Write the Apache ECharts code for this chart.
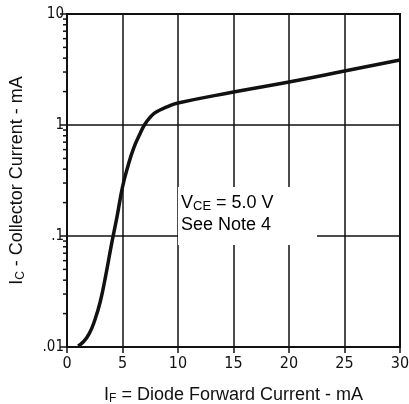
<!DOCTYPE html>
<html>
<head>
<meta charset="utf-8">
<script src="https://cdn.jsdelivr.net/npm/echarts@6/dist/echarts.min.js"></script>
<style>html,body{margin:0;padding:0;background:#fff;}#c{width:409px;height:404px;}</style>
</head>
<body>
<div id="c"></div>
<script>
// Diode forward current (mA)
var ifCurrent = [1.0, 1.5, 2.0, 2.5, 3.0, 3.5, 4.0, 4.5, 5.0, 5.5, 6.0, 6.5, 7.0, 7.5, 8.0, 9.0, 10, 15, 20, 25, 30];
// Collector current (mA)
var icCurrent = [0.0102, 0.0112, 0.0132, 0.0174, 0.0257, 0.0447, 0.0832, 0.148, 0.275, 0.43, 0.617, 0.804, 1.01, 1.175, 1.30, 1.455, 1.578, 1.98, 2.44, 3.06, 3.85];
var xTicks = [0, 5, 10, 15, 20, 25, 30];
var yTickLabels = {"0.01": ".01", "0.1": ".1", "1": "1", "10": "10"};
var yMinorTicks = [0.02,0.03,0.04,0.05,0.06,0.07,0.08,0.09,0.2,0.3,0.4,0.5,0.6,0.7,0.8,0.9,2,3,4,5,6,7,8,9];

var narrow = '"Liberation Sans Narrow", "DejaVu Sans Condensed", "Liberation Sans", sans-serif';
var sans = '"Liberation Sans", Arial, sans-serif';
var chart = echarts.init(document.getElementById('c'));
chart.setOption({
  animation: false,
  backgroundColor: '#fff',
  grid: {left: 67, right: 9, top: 14, bottom: 57, outerBoundsMode: 'none', containLabel: false, show: true, borderColor: '#111', borderWidth: 2, backgroundColor: 'transparent'},
  xAxis: {
    type: 'value', min: 0, max: 30, interval: 5,
    name: '{i|I}{s|F}{i| = Diode Forward Current - mA}',
    nameLocation: 'middle', nameGap: 38,
    nameTextStyle: {rich: {i: {fontFamily: sans, fontSize: 18, color: '#111'}, s: {fontFamily: sans, fontSize: 12, color: '#111', verticalAlign: 'bottom', padding: [8,0,0,0]}}},
    axisLine: {lineStyle: {color: '#111', width: 2}},
    axisTick: {length: 6, lineStyle: {color: '#111', width: 1.5}},
    axisLabel: {fontFamily: narrow, fontSize: 16, color: '#111', margin: 9},
    splitLine: {show: true, lineStyle: {color: '#111', width: 1.5}}
  },
  yAxis: {
    type: 'log', logBase: 10, min: 0.01, max: 10,
    name: '{i|I}{s|C}{i| - Collector Current - mA}',
    nameLocation: 'middle', nameGap: 40, nameRotate: 90,
    nameTextStyle: {rich: {i: {fontFamily: sans, fontSize: 18, color: '#111'}, s: {fontFamily: sans, fontSize: 12, color: '#111', verticalAlign: 'bottom', padding: [8,0,0,0]}}},
    axisLine: {show: true, lineStyle: {color: '#111', width: 2}},
    axisTick: {show: true, length: 7, lineStyle: {color: '#111', width: 1.5}},
    axisLabel: {fontFamily: narrow, fontSize: 15, color: '#111', margin: 3,
      formatter: function (v) { var k = String(+v.toPrecision(3)); return yTickLabels[k] !== undefined ? yTickLabels[k] : ''; }},
    splitLine: {show: true, lineStyle: {color: '#111', width: 1.5}}
  },
  graphic: [
    {type: 'rect', z: 1, shape: {x: 178, y: 187, width: 139, height: 58}, style: {fill: '#fff'}},
    {type: 'text', z: 10, left: 181, top: 194, style: {
      text: '{i|V}{s|CE}{i| = 5.0 V}\n{i|See Note 4}',
      rich: {i: {fontFamily: sans, fontSize: 18, color: '#111', lineHeight: 22}, s: {fontFamily: sans, fontSize: 13, color: '#111', lineHeight: 22, padding: [6,0,0,0]}}
    }}
  ],
  series: [
    {type: 'line', data: ifCurrent.map(function (x, i) { return [x, icCurrent[i]]; }),
     smooth: 0.5, symbol: 'none', lineStyle: {color: '#111', width: 3.5}, z: 5},
    {type: 'custom', clip: false, z: 6, silent: true,
     data: yMinorTicks.map(function (v) { return [0, v]; }),
     renderItem: function (params, api) {
       var p = api.coord([api.value(0), api.value(1)]);
       return {type: 'line', shape: {x1: p[0] - 4, y1: p[1], x2: p[0], y2: p[1]}, style: {stroke: '#111', lineWidth: 1.5}};
     }}
  ]
});
</script>
</body>
</html>
